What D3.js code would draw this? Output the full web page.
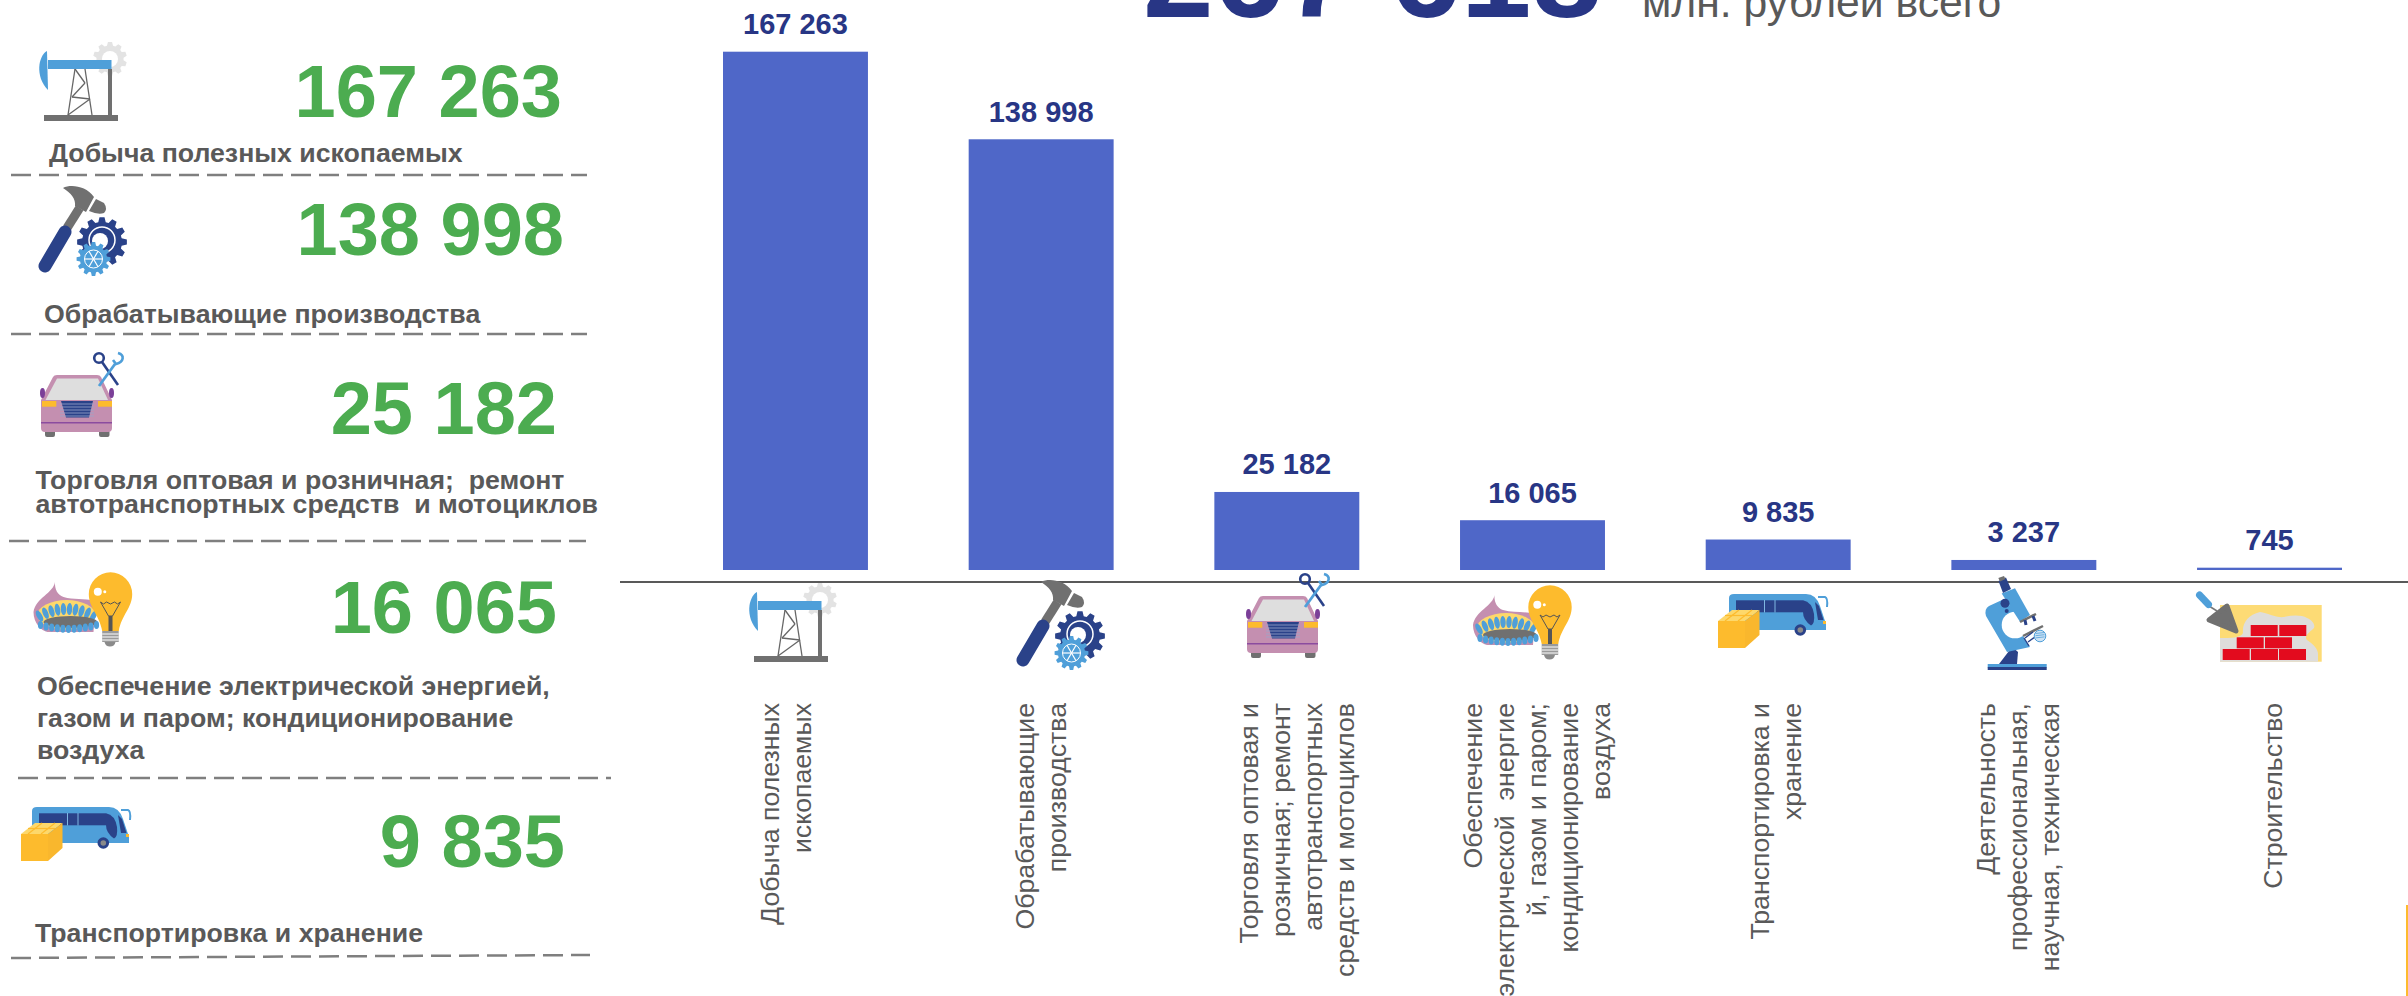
<!DOCTYPE html>
<html>
<head>
<meta charset="utf-8">
<script src="https://cdn.jsdelivr.net/npm/d3@7"></script>
<style>
html, body { margin: 0; padding: 0; background: #fff; overflow: hidden; }
text { font-family: "Liberation Sans", Arial, sans-serif; }
</style>
</head>
<body>
<svg id="chart" width="2408" height="996"></svg>
<script>
const categories = ["mining", "manufacturing", "trade", "energy", "transport", "science", "construction"];
const values = [167263, 138998, 25182, 16065, 9835, 3237, 745];
const totalText = "267 618";
const totalUnit = "млн. рублей всего";

// rotated labels under the axis, line breaks as in the original
const tickLines = [
    ["Добыча полезных", "ископаемых"],
    ["Обрабатывающие", "производства"],
    ["Торговля оптовая и", "розничная; ремонт", "автотранспортных", "средств и мотоциклов"],
    ["Обеспечение", "электрической  энергие", "й, газом и паром;", "кондиционирование", "воздуха"],
    ["Транспортировка и", "хранение"],
    ["Деятельность", "профессиональная,", "научная, техническая"],
    ["Строительство"]
];
const sideLines = [
    ["Добыча полезных ископаемых"],
    ["Обрабатывающие производства"],
    ["Торговля оптовая и розничная;  ремонт", "автотранспортных средств  и мотоциклов"],
    ["Обеспечение электрической энергией,", "газом и паром; кондиционирование", "воздуха"],
    ["Транспортировка и хранение"]
];

const tickNudge = [0, 9, 19, 13, 7, 3, 12];
const sideNumberEnd = [562, 564, 557, 557, 565];
const sideNumberY = [117, 255, 434, 633, 867];
const sideLabelX = [49, 44, 35.5, 37, 35];
const sideLabelY = [162, 323, 489, 695, 942];
const sideLabelStep = [0, 0, 24, 32, 0];
const sideIconXY = [[38, 42], [38, 185], [40, 352], [33.5, 573], [21, 807]];
const axisIconXY = [[748, 583], [1016, 579], [1246, 573], [1473, 586], [1718, 594], [1985, 576], [2196, 591]];
const dividers = [[11, 175, 587, 175], [11, 334, 587, 334], [9, 541, 586, 541], [18, 778, 611, 778], [11, 958, 590, 955]];

const BLUE = "#4f9fd9", NAVY = "#2a4289", GRAY = "#707070", PINK = "#c48fb0", AMBER = "#fdbb2d", PALE = "#fdd86b", TEXT = "#595959";

const fmt = d3.formatLocale({ decimal: ".", thousands: " ", grouping: [3], currency: ["", ""] }).format(",d");
const svg = d3.select("#chart");

const x = d3.scaleBand().domain(categories).range([723, 2342]).paddingInner(0.41);
const y = d3.scaleLinear().domain([0, 167263]).range([570, 51.7]);

function gear(g, cx, cy, r, teeth, fill) {
    let pts = [];
    for (let i = 0; i < teeth; i++) {
        let a = i / teeth * 2 * Math.PI, w = Math.PI / teeth * 0.55;
        pts.push([a - w * 1.3, r * 0.8], [a - w * 0.7, r], [a + w * 0.7, r], [a + w * 1.3, r * 0.8]);
    }
    g.append("path").attr("transform", `translate(${cx},${cy})`).attr("fill", fill)
        .attr("d", d3.lineRadial().curve(d3.curveLinearClosed)(pts));
}

function poly(g, points, fill) {
    return g.append("polygon").attr("points", points.join(" ")).attr("fill", fill);
}
function seg(g, x1, y1, x2, y2, stroke, w, cap) {
    return g.append("line").attr("x1", x1).attr("y1", y1).attr("x2", x2).attr("y2", y2)
        .attr("stroke", stroke).attr("stroke-width", w).attr("stroke-linecap", cap || "butt");
}
function box(g, x0, y0, w, h, fill) {
    return g.append("rect").attr("x", x0).attr("y", y0).attr("width", w).attr("height", h).attr("fill", fill);
}

const icons = {
    mining(g) {
        gear(g, 72, 17, 17, 10, "#e3e3e3");
        g.append("circle").attr("cx", 72).attr("cy", 17).attr("r", 8).attr("fill", "#fff");
        box(g, 70, 27, 4, 47, GRAY);
        box(g, 6, 73, 74, 6, GRAY);
        const leg = [[37, 27, 30, 73], [47, 27, 54, 73], [37, 27, 47, 41], [47, 41, 34, 55], [34, 55, 52, 57], [52, 57, 30, 73]];
        leg.forEach(l => seg(g, l[0], l[1], l[2], l[3], "#666", 1.3));
        box(g, 10, 18, 63.5, 9, BLUE);
        g.append("path").attr("fill", BLUE).attr("d", "M9,9 C0,14 -3,35 10,48 Z");
    },
    manufacturing(g) {
        seg(g, 29, 43, 41.6, 23, GRAY, 9);
        seg(g, 27, 47, 7, 81, NAVY, 13, "round");
        g.append("path").attr("fill", GRAY).attr("d", "M25,3 C33,-1 48,1 56,12 L48,27 L37,21 C38,14 33,8 25,3 Z");
        g.append("path").attr("fill", GRAY).attr("d", "M58,14 L66,18 Q70,24 66,28 Q60,30 51,26 Z");
        gear(g, 64, 57, 25, 12, NAVY);
        g.append("circle").attr("cx", 64).attr("cy", 55).attr("r", 13).attr("fill", NAVY).attr("stroke", "#fff").attr("stroke-width", 1.5);
        g.append("circle").attr("cx", 62).attr("cy", 56).attr("r", 8).attr("fill", "#fff");
        gear(g, 55.5, 74, 17, 12, BLUE);
        g.append("circle").attr("cx", 55.5).attr("cy", 74).attr("r", 9).attr("fill", "none").attr("stroke", "#fff").attr("stroke-width", 1);
        [0, 60, 120].forEach(a => {
            let c = Math.cos(a * Math.PI / 180) * 9, s = Math.sin(a * Math.PI / 180) * 9;
            seg(g, 55.5 - c, 74 - s, 55.5 + c, 74 + s, "#fff", 1.2);
        });
    },
    trade(g) {
        box(g, 5, 78, 10, 7, GRAY).attr("rx", 2);
        box(g, 59, 78, 10.5, 7, GRAY).attr("rx", 2);
        g.append("path").attr("fill", PINK).attr("d", "M1,48 L13,25 Q14,23 17,23 L57,23 Q60,23 61,25 L72,48 L72,76 Q72,80 68,80 L5,80 Q1,80 1,76 Z");
        poly(g, [[17, 26.5], [58, 26.5], [68, 48], [5.5, 48]], "#dedede");
        g.append("ellipse").attr("cx", 2.5).attr("cy", 41).attr("rx", 2.5).attr("ry", 5).attr("fill", "#7b3f98");
        g.append("ellipse").attr("cx", 71.5).attr("cy", 41).attr("rx", 2.5).attr("ry", 5).attr("fill", "#7b3f98");
        box(g, 2, 49, 14.3, 5.7, AMBER);
        box(g, 58, 49, 14, 5.7, AMBER);
        poly(g, [[21, 49], [53, 49], [49, 65.5], [26, 65.5]], NAVY);
        d3.range(52, 65, 3).forEach(v => seg(g, 20, v, 54, v, "#9aa6cc", 0.8));
        seg(g, 1, 70.7, 72, 70.7, "#8b4c9f", 1.5);
        seg(g, 62, 10, 78, 33, NAVY, 2.6);
        g.append("circle").attr("cx", 59).attr("cy", 6).attr("r", 4.8).attr("fill", "none").attr("stroke", NAVY).attr("stroke-width", 2.6);
        seg(g, 75, 12, 59, 34, BLUE, 2.8);
        g.append("path").attr("fill", "none").attr("stroke", BLUE).attr("stroke-width", 2.6)
            .attr("d", "M78,1 C85,3 84,10 76,12 L73,8");
    },
    energy(g) {
        g.append("path").attr("fill", PINK).attr("d", "M21.5,9 C20,20 2,25 0,39 C0,50 8,58 14,59 L60,59 L62,28 C50,25 40,27 30,24 C24,22 21,16 21.5,9 Z");
        g.append("ellipse").attr("cx", 33).attr("cy", 42).attr("rx", 29).attr("ry", 15).attr("fill", PALE);
        d3.range(10).forEach(i => {
            let t = (i - 4.5) / 4.5, fx = 33 + t * 27, fy = 43 - (1 - t * t) * 7;
            g.append("ellipse").attr("cx", fx).attr("cy", fy).attr("rx", 2.7).attr("ry", 6)
                .attr("fill", BLUE).attr("transform", `rotate(${t * 30},${fx},${fy})`);
        });
        g.append("ellipse").attr("cx", 37).attr("cy", 49).attr("rx", 27).attr("ry", 6).attr("fill", GRAY);
        d3.range(11).forEach(i => {
            let t = (i - 5) / 5, fx = 35 + t * 28, fy = 52 + (1 - t * t) * 4;
            g.append("ellipse").attr("cx", fx).attr("cy", fy).attr("rx", 2.6).attr("ry", 4).attr("fill", BLUE);
        });
        g.append("path").attr("fill", AMBER).attr("d", "M55.3,21 A21.7,21.7 0 1 1 98.7,21 C98.7,35 88,42 85.3,58 L68.7,58 C66,42 55.3,35 55.3,21 Z");
        g.append("circle").attr("cx", 64.3).attr("cy", 18.7).attr("r", 4).attr("fill", "#fff");
        g.append("circle").attr("cx", 71.3).attr("cy", 18.7).attr("r", 1.5).attr("fill", "#fff");
        g.append("path").attr("fill", "none").attr("stroke", "#555").attr("stroke-width", 1)
            .attr("d", "M67,29 L70,31 L73,29 L77,31 L81,29 L84,31 L87,29 L79,43 L75,43 Z");
        box(g, 75, 43, 4, 15, "#555");
        box(g, 68.7, 58, 16.5, 11, "#9a9a9a");
        d3.range(61, 69, 3).forEach(v => seg(g, 68.7, v, 85.2, v, "#fff", 1));
        g.append("path").attr("fill", "#8a8a8a").attr("d", "M71,69 L82,69 Q81,73.5 76.5,73.5 Q72,73.5 71,69 Z");
    },
    transport(g) {
        g.append("path").attr("fill", BLUE).attr("d", "M11,4 Q11,0 16,0 L88,0 Q98,0 102,12 L108,30 L108,36 L11,36 Z");
        box(g, 18, 6.3, 67, 12, NAVY);
        seg(g, 46.5, 6, 46.5, 18.5, "#7fb7e2", 1);
        seg(g, 57, 6, 57, 18.5, "#7fb7e2", 1);
        g.append("path").attr("fill", NAVY).attr("d", "M85,6.3 Q94,8 96,20 Q97,30 93,31.5 Q85,26 85,18 Z");
        g.append("path").attr("fill", NAVY).attr("d", "M97,8 L101,12 L105.5,26 L100,26 Z");
        g.append("path").attr("fill", "none").attr("stroke", BLUE).attr("stroke-width", 2).attr("d", "M100,3 L107,3 Q110,4 109,13");
        box(g, 105, 27, 3, 3, AMBER);
        g.append("circle").attr("cx", 82.3).attr("cy", 36).attr("r", 5.8).attr("fill", NAVY);
        g.append("circle").attr("cx", 82.3).attr("cy", 36).attr("r", 2.8).attr("fill", "#8a8a8a");
        poly(g, [[0, 27], [14, 16], [41.5, 16], [27, 27]], PALE);
        poly(g, [[27, 27], [41.5, 16], [41.5, 41], [27, 54]], "#f9b72d");
        box(g, 0, 27, 27, 27, AMBER);
        seg(g, 7, 27, 21, 16, AMBER, 1.2);
        seg(g, 20, 27, 34, 16, AMBER, 1.2);
        seg(g, 7, 21.5, 34, 21.5, AMBER, 1.2);
    },
    science(g) {
        box(g, 2.7, 88, 59, 3.5, BLUE);
        box(g, 2.7, 91, 59, 3, NAVY);
        g.append("path").attr("fill", NAVY).attr("d", "M14,88 L24,75 Q29,71 33,76 L32,88 Z");
        g.append("path").attr("fill", BLUE).attr("d", "M17,24 L4,30 Q-1,33 1,40 L22,76 L45,71 L38,60 L30,49 L40,40 Z");
        g.append("circle").attr("cx", 30).attr("cy", 49).attr("r", 13.3).attr("fill", "#fff");
        poly(g, [[30, 49], [38, 38.5], [52, 50], [38, 60.5]], "#fff");
        poly(g, [[16.7, 17.5], [30, 12.3], [45, 39], [35, 45.7]], BLUE);
        poly(g, [[13.5, 5], [21, 1.5], [26, 13], [18, 17]], NAVY);
        poly(g, [[13.3, 2], [19, 0], [20.5, 3], [15, 5.5]], GRAY);
        g.append("circle").attr("cx", 20).attr("cy", 27.3).attr("r", 4.5).attr("fill", NAVY);
        g.append("circle").attr("cx", 21.7).attr("cy", 35).attr("r", 2).attr("fill", NAVY);
        seg(g, 35, 46, 51, 38, GRAY, 2.5);
        seg(g, 40, 44, 41, 49, NAVY, 3);
        seg(g, 48, 40, 50, 45, NAVY, 3);
        seg(g, 38, 60, 58, 50, GRAY, 2.5);
        g.append("path").attr("fill", "none").attr("stroke", NAVY).attr("stroke-width", 1.4).attr("d", "M40,62 L48,56 M44,70 L39,62 M43,66 L50,61");
        g.append("circle").attr("cx", 55).attr("cy", 60).attr("r", 5.8).attr("fill", "#cfe3f4").attr("stroke", BLUE).attr("stroke-width", 1);
        d3.range(57.5, 63, 2.2).forEach(v => seg(g, 50.5, v, 59.5, v - 1, BLUE, 0.8));
    },
    construction(g) {
        box(g, 24, 14, 101.7, 56.7, "#fddb75");
        g.append("path").attr("fill", "#dedddb").attr("d", "M24,70.7 L24,47 C34,47 45,47 47,42 C46,32 52,24 64,21 C72,22 80,27 88,26 C96,24 106,24 111,27 C118,30 120,36 117,38 C112,42 108,46 111,49 C118,54 122,58 122,63 L122,70.7 Z");
        [[54.7, 34], [83.3, 34], [40.7, 46.3], [69, 46.3], [26.7, 58], [55, 58], [83, 58]].forEach(b => box(g, b[0], b[1], 27, 11, "#e30b1e"));
        seg(g, 13, 15, 21, 20, "#777", 1.5);
        seg(g, 3.5, 4, 12.5, 13.5, BLUE, 7, "round");
        poly(g, [[31, 15], [13, 29], [40, 40]], GRAY)
            .attr("stroke", GRAY).attr("stroke-width", 5).attr("stroke-linejoin", "round");
    }
};

// left panel
dividers.forEach(d => {
    svg.append("line").attr("x1", d[0]).attr("y1", d[1]).attr("x2", d[2]).attr("y2", d[3])
        .attr("stroke", "#7f7f7f").attr("stroke-width", 2.5).attr("stroke-dasharray", "20 8");
});
sideLines.forEach((lines, i) => {
    svg.append("text").attr("x", sideNumberEnd[i]).attr("y", sideNumberY[i]).attr("text-anchor", "end")
        .attr("font-size", 74).attr("font-weight", "bold").attr("fill", "#4cac50").text(fmt(values[i]));
    lines.forEach((line, j) => {
        svg.append("text").attr("x", sideLabelX[i]).attr("y", sideLabelY[i] + j * sideLabelStep[i])
            .attr("xml:space", "preserve").style("white-space", "pre")
            .attr("font-size", 26.7).attr("font-weight", "bold").attr("fill", TEXT).text(line);
    });
    icons[categories[i]](svg.append("g").attr("transform", `translate(${sideIconXY[i]})`));
});

// title, its top is cut off by the page edge
svg.append("text").attr("x", 1143).attr("y", 17).attr("font-size", 127).attr("font-weight", "bold").attr("fill", "#283685").text(totalText);
svg.append("text").attr("x", 1642).attr("y", 17).attr("font-size", 42.7).attr("fill", TEXT).text(totalUnit);

// bars
svg.selectAll(".bar").data(values).join("rect").attr("class", "bar")
    .attr("x", (d, i) => x(categories[i]))
    .attr("width", x.bandwidth())
    .attr("y", d => y(d))
    .attr("height", d => y(0) - y(d))
    .attr("fill", "#4f67c8");

svg.selectAll(".val").data(values).join("text").attr("class", "val")
    .attr("x", (d, i) => x(categories[i]) + x.bandwidth() / 2)
    .attr("y", d => y(d) - 17.5)
    .attr("text-anchor", "middle").attr("font-size", 29).attr("font-weight", "bold").attr("fill", "#283685")
    .text(d => fmt(d));

svg.append("line").attr("x1", 620).attr("x2", 2408).attr("y1", 582).attr("y2", 582).attr("stroke", "#595959").attr("stroke-width", 2);

// rotated tick labels, all ending on the same line
categories.forEach((c, i) => {
    let cx = x(c) + x.bandwidth() / 2 + tickNudge[i];
    let n = tickLines[i].length;
    tickLines[i].forEach((line, j) => {
        let lx = cx + (j - (n - 1) / 2) * 32;
        svg.append("text").attr("transform", `translate(${lx},703) rotate(-90)`)
            .attr("text-anchor", "end").style("white-space", "pre")
            .attr("font-size", 26.7).attr("fill", TEXT).text(line);
    });
    icons[c](svg.append("g").attr("transform", `translate(${axisIconXY[i]})`));
});

// stray edge of a frame at the bottom right
svg.append("rect").attr("x", 2406).attr("y", 905).attr("width", 2).attr("height", 91).attr("fill", AMBER);
</script>
</body>
</html>
